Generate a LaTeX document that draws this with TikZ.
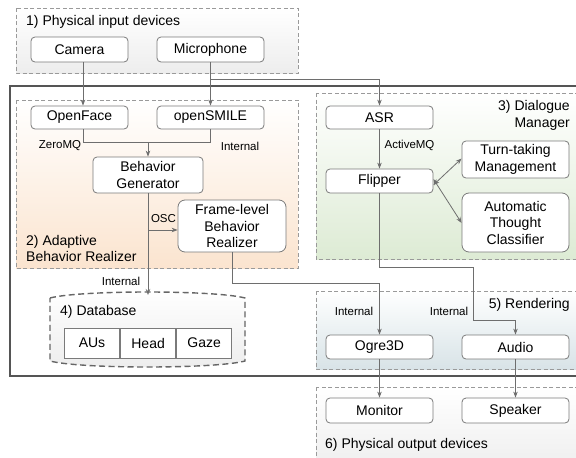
\documentclass[tikz,border=0pt]{standalone}
\usepackage{fontspec}
\setmainfont{Liberation Sans}
\usetikzlibrary{arrows.meta,calc}
\definecolor{nodeline}{HTML}{7A7A7A}
\definecolor{grpline}{HTML}{9A9A9A}
\definecolor{conn}{HTML}{6E6E6E}
\definecolor{frameline}{HTML}{555555}
\definecolor{grayfill}{HTML}{EDEDED}
\definecolor{peachfill}{HTML}{FBE4CF}
\definecolor{greenfill}{HTML}{DDEBD4}
\definecolor{bluefill}{HTML}{D8E3E7}
\definecolor{dbline}{HTML}{666666}
\tikzset{
  box/.style={draw=nodeline, fill=white, rounded corners=4pt, line width=0.8pt,
    align=center, inner sep=0pt, font=\fontsize{14}{16.5}\selectfont},
  grp/.style={draw=grpline, dash pattern=on 4pt off 2.5pt, line width=0.8pt},
  conline/.style={draw=conn, line width=0.8pt},
  arr/.style={conline, -{Stealth[length=6pt,width=4.5pt]}},
  darr/.style={conline, {Stealth[length=6pt,width=4.5pt]}-{Stealth[length=6pt,width=4.5pt]}},
  lbl/.style={font=\fontsize{11.5}{13}\selectfont, inner sep=0pt},
  ttl/.style={font=\fontsize{14}{16.5}\selectfont, inner sep=0pt},
  cell/.style={draw=nodeline, fill=white, line width=0.8pt, minimum width=55.3pt,
    minimum height=30pt, inner sep=0pt, font=\fontsize{14}{16.5}\selectfont},
}
\begin{document}
\begin{tikzpicture}[x=1pt,y=-1pt]
\useasboundingbox (0,0) rectangle (576,458);
\fill[white] (0,0) rectangle (576,458);
% groups
\path[grp, top color=white, bottom color=grayfill] (16,8) rectangle (298,73);
\draw[frameline, line width=1.5pt] (10,86) rectangle (600,376);
\path[grp, top color=white, bottom color=peachfill] (16,100) rectangle (298,268);
\path[grp, top color=white, bottom color=greenfill] (316,93) rectangle (600,259);
\path[grp, top color=white, bottom color=bluefill] (316,291) rectangle (600,369);
\path[grp, top color=white, bottom color=grayfill] (316,387) rectangle (600,475);
% titles
\node[ttl, anchor=west] (t1) at (26,22) {1) Physical input devices};
\node[ttl, anchor=west, align=left] (t2) at (26,248.5) {2) Adaptive\\Behavior Realizer};
\node[ttl, anchor=east, align=right] (t3) at (570,115.5) {3) Dialogue\\Manager};
\node[ttl, anchor=east] (t5) at (570,305) {5) Rendering};
\node[ttl, anchor=west] (t6) at (325,445) {6) Physical output devices};
% database cylinder
\path[draw=dbline, line width=1.4pt, dash pattern=on 6pt off 3.5pt, top color=white, bottom color=grayfill]
  (50,298) .. controls (80,290) and (215,290) .. (245,298) -- (245,361)
  .. controls (215,369) and (80,369) .. (50,361) -- cycle;
\coordinate (dbtop) at (148,295);
\node[ttl, anchor=west] (t4) at (60,312) {4) Database};
\node[cell] (aus) at (92,343) {AUs};
\node[cell, anchor=west] (head) at (aus.east) {Head};
\node[cell, anchor=west] (gaze) at (head.east) {Gaze};
% nodes
\node[box, minimum width=97pt, minimum height=25pt] (cam) at (79.5,49.5) {Camera};
\node[box, minimum width=107pt, minimum height=25pt] (mic) at (210.5,49.5) {Microphone};
\node[box, minimum width=97pt, minimum height=23pt] (of) at (79.5,117.5) {OpenFace};
\node[box, minimum width=107pt, minimum height=23pt] (os) at (210.5,117.5) {openSMILE};
\node[box, minimum width=110pt, minimum height=36pt] (bg) at (148,175) {Behavior\\Generator};
\node[box, minimum width=108pt, minimum height=52pt, rounded corners=7pt] (fl) at (232,226) {Frame-level\\Behavior\\Realizer};
\node[box, minimum width=107pt, minimum height=23pt] (asr) at (379.5,117.5) {ASR};
\node[box, minimum width=107pt, minimum height=24pt] (flip) at (379.5,181) {Flipper};
\node[box, minimum width=107pt, minimum height=37pt] (tt) at (515.5,159.5) {Turn-taking\\Management};
\node[box, minimum width=107pt, minimum height=59pt, rounded corners=7pt] (atc) at (515.5,222.5) {Automatic\\Thought\\Classifier};
\node[box, minimum width=107pt, minimum height=24pt] (ogre) at (379.5,347) {Ogre3D};
\node[box, minimum width=107pt, minimum height=24pt] (audio) at (515.5,347) {Audio};
\node[box, minimum width=107pt, minimum height=25pt] (mon) at (379.5,410.5) {Monitor};
\node[box, minimum width=107pt, minimum height=25pt] (spk) at (515.5,410.5) {Speaker};
% connectors
\draw[arr] ([xshift=3.5pt]cam.south) -- ([xshift=3.5pt]of.north);
\draw[arr] (mic.south) -- (os.north);
\draw[arr] (mic.south |- 0,79) -- (asr.north |- 0,79) -- (asr.north);
\draw[conline] ([xshift=4pt]of.south) |- (os.south |- 0,142) -- (os.south);
\draw[arr] (bg.north |- 0,142) -- (bg.north);
\draw[arr] (bg.south) -- (dbtop);
\draw[arr] (bg.south |- 0,230) -- (fl.west |- 0,230);
\draw[arr] (fl.south) |- (ogre.north |- 0,283) -- (ogre.north);
\draw[arr] (asr.south) -- (flip.north);
\draw[darr] ([yshift=-4pt]flip.east) -- ([yshift=1pt]tt.west);
\draw[darr] ([yshift=2pt]flip.east) -- ([yshift=-0.5pt]atc.west);
\draw[arr] (flip.south) |- (473,267) |- (audio.north |- 0,320) -- (audio.north);
\draw[arr] (ogre.south) -- (mon.north);
\draw[arr] (audio.south) -- (spk.north);
% labels
\node[lbl] (l1) at (60,146) {ZeroMQ};
\node[lbl] (l2) at (240,146) {Internal};
\node[lbl] (l3) at (163.5,219) {OSC};
\node[lbl] (l4) at (121,281) {Internal};
\node[lbl] (l5) at (409.5,145) {ActiveMQ};
\node[lbl] (l6) at (354,311) {Internal};
\node[lbl] (l7) at (449,311) {Internal};
\end{tikzpicture}
\end{document}
